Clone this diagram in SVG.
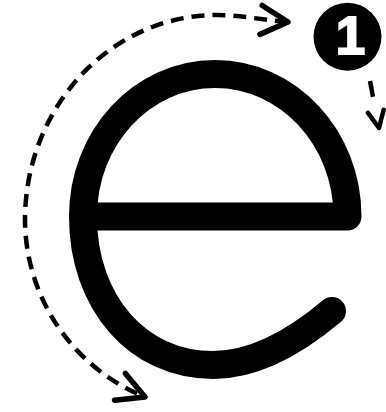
<svg xmlns="http://www.w3.org/2000/svg" width="386" height="412" viewBox="0 0 386 412">
  <style>
    .glyph { fill: none; stroke: #000; stroke-width: 28; stroke-linecap: round; stroke-linejoin: round; }
    .dash { fill: none; stroke: #000; stroke-width: 4.5; stroke-dasharray: 13 8; }
    .dash-short { fill: none; stroke: #000; stroke-width: 4.5; stroke-dasharray: 16 60; }
    .chev { fill: none; stroke: #000; stroke-width: 5.5; stroke-linecap: round; stroke-linejoin: round; }
    .num { font-family: "Liberation Sans", Arial, sans-serif; font-weight: bold; fill: #fff; stroke: #fff; stroke-width: 2; }
  </style>
  <defs>
    <marker id="arrow" markerUnits="userSpaceOnUse" markerWidth="60" markerHeight="60" refX="0" refY="0" orient="auto-start-reverse" overflow="visible">
      <path class="chev" d="M -27,-14.5 L 0,0 L -27,14.5"/>
    </marker>
    <marker id="arrow-small" markerUnits="userSpaceOnUse" markerWidth="40" markerHeight="40" refX="0" refY="0" orient="auto" overflow="visible">
      <path class="chev" d="M -17,-8 L 0,0 L -17,8" style="stroke-width:4.5"/>
    </marker>
  </defs>
  <rect width="386" height="412" fill="#fff"/>
  <g id="letter-e">
    <path class="glyph" d="M 332,311 C 300,338 258,365 213,365 C 137.6,365 83,302.5 83,216.5 C 83,137.8 141.8,74 215,74 C 288.2,74 347.5,137.8 347.5,216.5 L 83,216.5"/>
  </g>
  <g id="badge-1">
    <circle cx="347.5" cy="36.7" r="34" fill="#000"/>
    <text class="num" x="350.5" y="54" font-size="53" text-anchor="middle">1</text>
  </g>
  <g id="connectors">
    <path class="dash" d="M 288,22 C 262,20 240,15 217,15 A 192 205 0 0 0 25,220 A 192 192 0 0 0 145,397" marker-start="url(#arrow)" marker-end="url(#arrow)"/>
    <path class="dash-short" d="M 370,81 L 379,128" marker-end="url(#arrow-small)"/>
  </g>
</svg>
